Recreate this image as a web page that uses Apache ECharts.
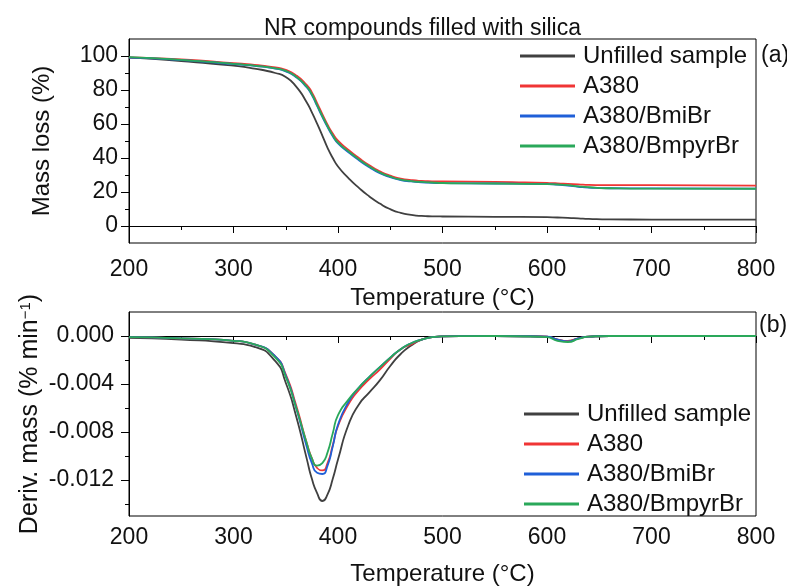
<!DOCTYPE html>
<html>
<head>
<meta charset="utf-8">
<script src="https://cdn.jsdelivr.net/npm/echarts@6/dist/echarts.min.js"></script>
<style>
  html, body { margin: 0; padding: 0; background: #fff; }
  #chart { width: 787px; height: 587px; }
</style>
</head>
<body>
<div id="chart"></div>
<script>
// sample names and colours
var names = ['Unfilled sample', 'A380', 'A380/BmiBr', 'A380/BmpyrBr'];
var colors = ['#404040', '#f03535', '#1f5fd8', '#2aa85a'];

var temps = [200, 250, 300, 320, 340, 350, 360, 370, 375, 380, 385, 390, 395, 400, 410, 420, 430, 440, 450, 460, 470, 480, 490, 500, 550, 600, 610, 620, 630, 640, 660, 700, 800];

// (a) mass loss (%)
var massUnfilled = [99.0, 97.0, 94.3, 92.6, 90.0, 87.6, 82.0, 72.8, 66.8, 60.2, 53.2, 46.0, 40.0, 35.0, 28.2, 22.4, 17.4, 13.2, 9.9, 7.7, 6.5, 5.9, 5.7, 5.6, 5.4, 5.2, 5.0, 4.8, 4.5, 4.2, 3.9, 3.8, 3.8];
var massA380 = [99.2, 98.0, 95.8, 94.8, 93.3, 91.8, 88.6, 83.0, 78.6, 72.3, 65.8, 59.6, 54.4, 50.2, 44.8, 40.0, 35.7, 32.2, 29.6, 27.9, 27.0, 26.5, 26.3, 26.2, 26.0, 25.3, 25.1, 24.8, 24.5, 24.2, 24.0, 24.0, 23.8];
var massBmiBr = [99.0, 97.6, 95.3, 94.2, 92.6, 91.0, 87.5, 81.6, 77.0, 70.6, 64.2, 58.2, 52.8, 48.6, 43.4, 38.7, 34.6, 31.1, 28.7, 27.0, 26.2, 25.7, 25.4, 25.2, 25.0, 24.6, 24.3, 23.8, 23.1, 22.6, 22.2, 22.1, 22.0];
var massBmpyrBr = [99.3, 97.7, 95.4, 94.3, 92.7, 91.2, 87.8, 82.0, 77.5, 71.1, 64.7, 58.7, 53.3, 49.0, 43.9, 39.2, 35.0, 31.5, 29.0, 27.3, 26.4, 25.9, 25.6, 25.3, 25.0, 24.6, 24.4, 24.0, 23.3, 22.8, 22.2, 22.0, 21.9];

// (b) derivative mass (% min^-1)
var derivUnfilled = [-0.00015, -0.0003, -0.0006, -0.0009, -0.0021, -0.0039, -0.0067, -0.0102, -0.0119, -0.0131, -0.01375, -0.0132, -0.0119, -0.0103, -0.0074, -0.0057, -0.0047, -0.0037, -0.0025, -0.0015, -0.0008, -0.0003, -0.0001, -0.00003, 0, -0.00005, -0.0003, -0.0004, -0.0002, -0.00005, 0, 0, 0];
var derivA380 = [-0.0001, -0.0002, -0.0004, -0.0007, -0.0017, -0.0032, -0.0058, -0.0089, -0.0102, -0.0110, -0.0112, -0.0106, -0.0091, -0.0075, -0.0057, -0.0045, -0.0036, -0.0028, -0.0019, -0.0011, -0.0007, -0.0003, -0.0001, -0.00003, 0, -0.00005, -0.0003, -0.0004, -0.0002, -0.00005, 0, 0, 0];
var derivBmiBr = [-0.0001, -0.0002, -0.0004, -0.0007, -0.0017, -0.0033, -0.0060, -0.0092, -0.0106, -0.0114, -0.0115, -0.0108, -0.0092, -0.0074, -0.0055, -0.0043, -0.0034, -0.0026, -0.0018, -0.0011, -0.0006, -0.0003, -0.0001, -0.00003, 0, -0.00005, -0.0003, -0.00045, -0.0002, -0.00005, 0, 0, 0];
var derivBmpyrBr = [-0.0001, -0.0002, -0.0004, -0.0007, -0.0018, -0.0034, -0.0060, -0.0089, -0.0102, -0.0108, -0.0106, -0.0097, -0.0081, -0.0066, -0.0053, -0.0043, -0.0034, -0.0026, -0.0018, -0.0011, -0.0006, -0.0003, -0.0001, -0.00003, 0, -0.0001, -0.0004, -0.0005, -0.00025, -0.00005, 0, 0, 0];

// tick values
var massTicks = [0, 20, 40, 60, 80, 100];
var massMinorTicks = [10, 30, 50, 70, 90];
var derivTicks = [0, -0.004, -0.008, -0.012];
var derivMinorTicks = [-0.002, -0.006, -0.010, -0.014];

var massSets = [massUnfilled, massA380, massBmiBr, massBmpyrBr];
var derivSets = [derivUnfilled, derivA380, derivBmiBr, derivBmpyrBr];

var FONT = '"Liberation Sans", Arial, sans-serif';
var ink = '#111';

function pairs(vals) {
  var out = [];
  for (var i = 0; i < temps.length; i++) out.push([temps[i], vals[i]]);
  return out;
}

function xAxisFor(idx, labelMargin, nameGap) {
  return {
    gridIndex: idx,
    type: 'value',
    min: 200,
    max: 800,
    interval: 100,
    name: 'Temperature (°C)',
    nameLocation: 'middle',
    nameGap: nameGap,
    nameTextStyle: { fontFamily: FONT, fontSize: 24, color: ink },
    axisLine: { lineStyle: { color: '#000', width: 1 } },
    axisTick: { length: 7, lineStyle: { color: '#000' } },
    minorTick: { show: true, splitNumber: 2, length: 4, lineStyle: { color: '#000' } },
    splitLine: { show: false },
    axisLabel: { fontFamily: FONT, fontSize: 23, color: ink, margin: labelMargin }
  };
}

var series = [];
for (var k = 0; k < names.length; k++) {
  series.push({
    name: names[k], type: 'line', xAxisIndex: 0, yAxisIndex: 0,
    data: pairs(massSets[k]), showSymbol: false, symbol: 'none',
    smooth: 0.6, color: colors[k],
    lineStyle: { width: 1.8, color: colors[k] }, z: 2 + k
  });
}
for (var k = 0; k < names.length; k++) {
  series.push({
    name: names[k], type: 'line', xAxisIndex: 1, yAxisIndex: 2,
    data: pairs(derivSets[k]), showSymbol: false, symbol: 'none',
    smooth: 0.6, color: colors[k],
    lineStyle: { width: 1.8, color: colors[k] }, z: 2 + k
  });
}

var legendBase = {
  data: names,
  orient: 'vertical',
  icon: 'rect',
  itemWidth: 55,
  itemHeight: 3,
  itemGap: 6,
  padding: 0,
  selectedMode: false,
  textStyle: { fontFamily: FONT, fontSize: 24, color: ink, padding: [0, 0, 0, 3] }
};

var option = {
  backgroundColor: '#fff',
  animation: false,
  title: {
    text: 'NR compounds filled with silica',
    left: 259,
    top: 12,
    textStyle: { fontFamily: FONT, fontSize: 23, fontWeight: 'normal', color: ink }
  },
  legend: [
    Object.assign({}, legendBase, { left: 520, top: 44 }),
    Object.assign({}, legendBase, { left: 524, top: 402 })
  ],
  grid: [
    { left: 129, top: 39, width: 627, height: 204, show: true, borderColor: '#000', borderWidth: 1 },
    { left: 129, top: 312, width: 627, height: 205, show: true, borderColor: '#000', borderWidth: 1 }
  ],
  xAxis: [xAxisFor(0, 15, 43), xAxisFor(1, 10, 46)],
  yAxis: [
    {
      gridIndex: 0, type: 'value', position: 'left', min: -10, max: 110,
      name: 'Mass loss (%)', nameLocation: 'middle', nameGap: 75,
      nameTextStyle: { fontFamily: FONT, fontSize: 24, color: ink },
      axisLine: { show: true, lineStyle: { color: '#000', width: 1 } },
      axisTick: { show: true, length: 8, customValues: massTicks, lineStyle: { color: '#000' } },
      axisLabel: { fontFamily: FONT, fontSize: 23, color: ink, margin: 11, customValues: massTicks },
      splitLine: { show: false }
    },
    {
      gridIndex: 0, type: 'value', position: 'left', min: -10, max: 110,
      axisLine: { show: false },
      axisTick: { show: true, length: 4, customValues: massMinorTicks, lineStyle: { color: '#000' } },
      axisLabel: { show: false },
      splitLine: { show: false }
    },
    {
      gridIndex: 1, type: 'value', position: 'left', min: -0.015, max: 0.002,
      name: 'Deriv. mass (% min{sup|−1})', nameLocation: 'middle', nameGap: 86,
      nameMoveOverlap: false,
      nameTextStyle: {
        fontFamily: FONT, fontSize: 25, color: ink,
        rich: { sup: { fontFamily: FONT, fontSize: 15, color: ink, verticalAlign: 'top', lineHeight: 15 } }
      },
      axisLine: { show: true, lineStyle: { color: '#000', width: 1 } },
      axisTick: { show: true, length: 8, customValues: derivTicks, lineStyle: { color: '#000' } },
      axisLabel: {
        fontFamily: FONT, fontSize: 23, color: ink, margin: 15, customValues: derivTicks,
        formatter: function (v) { return v.toFixed(3); }
      },
      splitLine: { show: false }
    },
    {
      gridIndex: 1, type: 'value', position: 'left', min: -0.015, max: 0.002,
      axisLine: { show: false },
      axisTick: { show: true, length: 4, customValues: derivMinorTicks, lineStyle: { color: '#000' } },
      axisLabel: { show: false },
      splitLine: { show: false }
    }
  ],
  graphic: [
    { type: 'text', left: 761, top: 44, style: { text: '(a)', font: '23px ' + FONT, fill: ink } },
    { type: 'text', left: 759, top: 314, style: { text: '(b)', font: '23px ' + FONT, fill: ink } }
  ],
  series: series
};

var myChart = echarts.init(document.getElementById('chart'));
myChart.setOption(option);
</script>
</body>
</html>
